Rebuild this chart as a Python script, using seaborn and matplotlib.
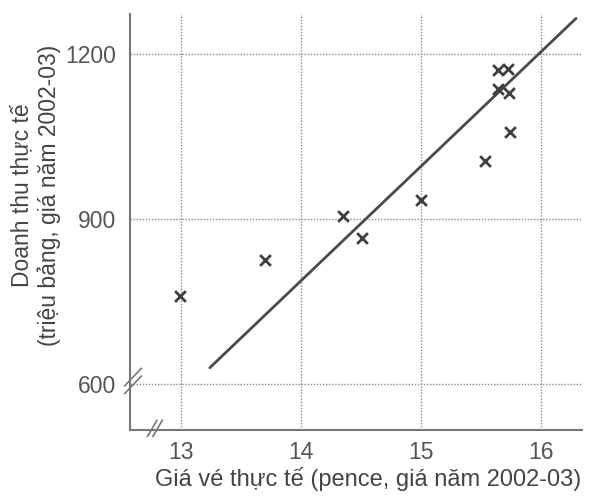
import matplotlib
matplotlib.use("Agg")
import matplotlib.pyplot as plt
import seaborn as sns
import pandas as pd

# Data
fare = [15.64, 15.72, 15.64, 15.73, 15.74, 15.53, 15.00, 14.35, 14.51, 13.70, 12.99]
revenue = [1170, 1172, 1136, 1129, 1057, 1005, 934, 905, 865, 826, 760]
line_x = [13.24, 16.29]
line_y = [630, 1264]
x_ticks = [13, 14, 15, 16]
y_ticks = [600, 900, 1200]
x_label = "Giá vé thực tế (pence, giá năm 2002-03)"
y_label = "Doanh thu thực tế\n(triệu bảng, giá năm 2002-03)"

sns.set_style("white")
plt.rcParams['font.family'] = ['Liberation Sans', 'DejaVu Sans']

df = pd.DataFrame({"fare": fare, "revenue": revenue})
dl = pd.DataFrame({"x": line_x, "y": line_y})

fig = plt.figure(figsize=(5.89, 5.00), dpi=100)
ax = fig.add_axes([130/589, 1 - 430/500, (582 - 130)/589, (430 - 14)/500])

grid_col = "#8a8a8a"
for xv in x_ticks:
    ax.axvline(xv, color=grid_col, lw=1.0, ls=(0, (1, 1.2)), zorder=0)
for yv in y_ticks:
    ax.axhline(yv, color=grid_col, lw=1.0, ls=(0, (1, 1.2)), zorder=0)

sns.lineplot(data=dl, x="x", y="y", ax=ax, color="#4a4a4a", lw=2.0, zorder=3)
sns.scatterplot(data=df, x="fare", y="revenue", ax=ax, marker="x", s=60,
                color="#3f3f3f", linewidth=2.0, zorder=4)

ax.set_xlim(12.575, 16.34)
ax.set_ylim(517, 1272)
ax.set_xticks(x_ticks)
ax.set_yticks(y_ticks)
ax.tick_params(axis="both", length=0, labelsize=16.5, labelcolor="#555555")
ax.tick_params(axis="y", pad=10)
ax.tick_params(axis="x", pad=8)
ax.set_xlabel("")
ax.set_ylabel("")

for s in ["top", "right"]:
    ax.spines[s].set_visible(False)
for s in ["left", "bottom"]:
    ax.spines[s].set_color("#777777")
    ax.spines[s].set_linewidth(1.5)

# axis-break marks
for dx in [0.0, 0.045]:
    ax.plot([12.72 + dx, 12.80 + dx], [505, 535], color="#777777", lw=1.2,
            clip_on=False, zorder=5)
for dy in [0, 14]:
    ax.plot([12.53, 12.67], [583 + dy, 615 + dy], color="#777777", lw=1.2,
            clip_on=False, zorder=5)

fig.text(368/589, 1 - 479/500, x_label, ha="center", va="center",
         fontsize=17, color="#444444")
fig.text(35.5/589, 1 - 195/500, y_label, ha="center", va="center",
         rotation=90, fontsize=16.5, color="#444444", linespacing=1.22)

fig.savefig("out.png", dpi=100, facecolor="white")
